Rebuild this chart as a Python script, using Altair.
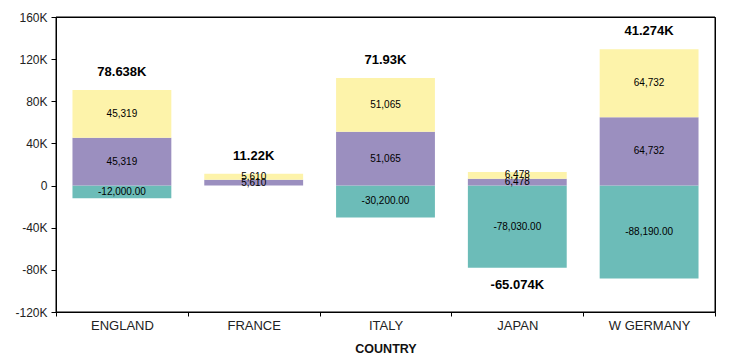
import altair as alt
import pandas as pd

countries = ["ENGLAND", "FRANCE", "ITALY", "JAPAN", "W GERMANY"]
series_neg = [-12000.0, 0.0, -30200.0, -78030.0, -88190.0]
series_mid = [45319, 5610, 51065, 6478, 64732]
series_top = [45319, 5610, 51065, 6478, 64732]
y_ticks = [-120000, -80000, -40000, 0, 40000, 80000, 120000, 160000]
series_names = ["neg", "mid", "top"]
series_colors = ["#6cbcb8", "#9b8fbf", "#fdf3aa"]

rows = []
tot_rows = []
for i, c in enumerate(countries):
    n = series_neg[i]
    m = series_mid[i]
    t = series_top[i]
    if n != 0:
        rows.append(dict(country=c, series="neg", y0=0, y1=n, label=f"{n:,.2f}"))
    rows.append(dict(country=c, series="mid", y0=0, y1=m, label=f"{m:,}"))
    rows.append(dict(country=c, series="top", y0=m, y1=m + t, label=f"{t:,}"))
    total = n + m + t
    tot_rows.append(dict(country=c, total=total, pos=m + t, neg=n,
                         anchor=(m + t) if total >= 0 else n,
                         label=f"{total/1000:g}K"))
df = pd.DataFrame(rows)
df["ym"] = (df["y0"] + df["y1"]) / 2
tot = pd.DataFrame(tot_rows)

FONT = "Liberation Sans"

x_scale = alt.Scale(paddingInner=0, paddingOuter=0)
x_enc = alt.X("country:N", sort=countries, scale=x_scale,
              axis=alt.Axis(title="COUNTRY", labelAngle=0, tickBand="extent",
                            labelFontSize=13, labelColor="#222", labelPadding=3,
                            titleFontSize=12.5, titleFontWeight="bold", titleColor="#111",
                            titlePadding=10, domainColor="#000", tickColor="#000",
                            tickSize=4, labelFont=FONT, titleFont=FONT))
y_scale = alt.Scale(domain=[-120000, 160000], nice=False)
y_axis = alt.Axis(values=y_ticks, title=None, grid=False,
                  labelExpr="datum.value == 0 ? '0' : (datum.value/1000) + 'K'",
                  labelFontSize=12, labelColor="#222", labelFont=FONT,
                  domainColor="#000", tickColor="#000", tickSize=5,
                  labelPadding=4, minExtent=48, maxExtent=48)

bars = alt.Chart(df).mark_bar(width=alt.RelativeBandSize(0.75)).encode(
    x=x_enc,
    y=alt.Y("y0:Q", scale=y_scale, axis=y_axis),
    y2="y1:Q",
    color=alt.Color("series:N", scale=alt.Scale(domain=series_names, range=series_colors), legend=None),
)

seg_text = alt.Chart(df).mark_text(fontSize=10, font=FONT, color="#000", baseline="middle").encode(
    x=alt.X("country:N", sort=countries),
    y=alt.Y("ym:Q", scale=y_scale),
    text="label:N",
)

pos_text = alt.Chart(tot).transform_filter("datum.total >= 0").mark_text(
    fontSize=13, font=FONT, fontWeight="bold", color="#000", baseline="middle", dy=-18
).encode(
    x=alt.X("country:N", sort=countries),
    y=alt.Y("anchor:Q", scale=y_scale),
    text="label:N",
)

neg_text = alt.Chart(tot).transform_filter("datum.total < 0").mark_text(
    fontSize=13, font=FONT, fontWeight="bold", color="#000", baseline="middle", dy=17
).encode(
    x=alt.X("country:N", sort=countries),
    y=alt.Y("anchor:Q", scale=y_scale),
    text="label:N",
)

frame = alt.Chart(pd.DataFrame({"k": [0]})).mark_rect(
    fill=None, stroke="#000", strokeWidth=1
).encode(x=alt.value(0), x2=alt.value("width"), y=alt.value(0), y2=alt.value("height"))

chart = alt.layer(bars, seg_text, pos_text, neg_text, frame).properties(
    width=659, height=295,
    padding={"top": 3, "left": 0, "right": 0, "bottom": 0},
    background="#ffffff",
).configure_view(stroke="#000", strokeWidth=1).configure_axis(labelFont=FONT)

chart.save("out.html", embed_options={"renderer": "svg", "actions": False})
